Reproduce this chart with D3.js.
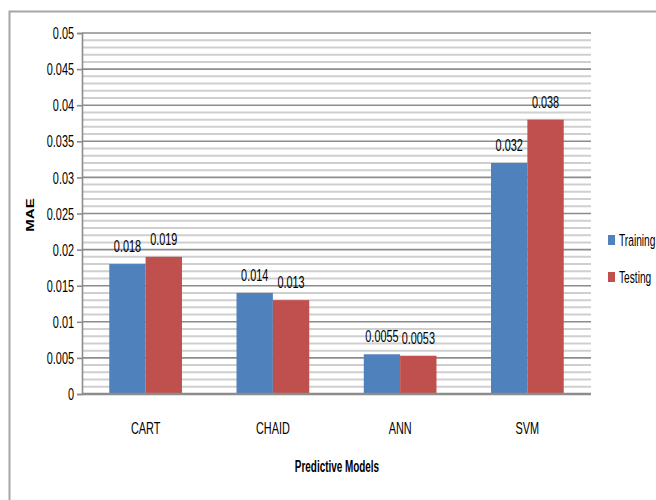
<!DOCTYPE html>
<html>
<head>
<meta charset="utf-8">
<script src="https://cdn.jsdelivr.net/npm/d3@7"></script>
<style>
  body { margin: 0; background: #fff; }
  svg { display: block; }
  text { font-family: "Liberation Sans", Arial, sans-serif; fill: #000; }
</style>
</head>
<body>
<svg id="chart" width="656" height="500"></svg>
<script>
// MAE of each predictive model on training and testing data
const models = ["CART", "CHAID", "ANN", "SVM"];
const seriesNames = ["Training", "Testing"];
const training = [0.018, 0.014, 0.0055, 0.032];
const testing = [0.019, 0.013, 0.0053, 0.038];
const trainingLabels = ["0.018", "0.014", "0.0055", "0.032"];
const testingLabels = ["0.019", "0.013", "0.0053", "0.038"];
const yTicks = [0, 0.005, 0.01, 0.015, 0.02, 0.025, 0.03, 0.035, 0.04, 0.045, 0.05];
const yTickLabels = ["0", "0.005", "0.01", "0.015", "0.02", "0.025", "0.03", "0.035", "0.04", "0.045", "0.05"];
const colors = ["#4f81bd", "#c0504d"];

const svg = d3.select("#chart");
const plot = { left: 82, right: 591, top: 33, bottom: 394 };
const SX = 0.64; // horizontal condensing of the narrow lettering

// places condensed text anchored at (x, y)
function narrowText(parent, x, y, str, opts = {}) {
  const g = parent.append("g").attr("transform", `translate(${x},${y}) scale(${opts.sx || SX},1)`);
  return g.append("text")
    .attr("text-anchor", opts.anchor || "middle")
    .attr("dy", opts.dy || 0)
    .attr("font-size", opts.size || 17)
    .attr("font-weight", opts.weight || "normal")
    .text(str);
}

// outer frame (top and left edges)
svg.append("path")
  .attr("d", "M9.5,500 V11.5 H656")
  .attr("fill", "none")
  .attr("stroke", "#a6a6a6")
  .attr("stroke-width", 2);

const y = d3.scaleLinear().domain([0, 0.05]).range([plot.bottom, plot.top]);
const x0 = d3.scaleBand().domain(models).range([plot.left, plot.right]).paddingInner(0).paddingOuter(0);
const x1 = d3.scaleBand().domain(seriesNames).range([0, x0.bandwidth()]).paddingInner(0).paddingOuter(0.75);

// minor gridlines every 0.001
const minor = d3.range(1, 50).filter(i => i % 5 !== 0).map(i => i / 1000);
svg.append("g").selectAll("line").data(minor).join("line")
  .attr("x1", plot.left).attr("x2", plot.right)
  .attr("y1", d => y(d)).attr("y2", d => y(d))
  .attr("stroke", "#cfcfcf").attr("stroke-width", 2);

// major gridlines
svg.append("g").selectAll("line").data(yTicks.slice(1)).join("line")
  .attr("x1", plot.left).attr("x2", plot.right)
  .attr("y1", d => y(d)).attr("y2", d => y(d))
  .attr("stroke", "#8c8c8c").attr("stroke-width", 1.6);

// y axis line and ticks
const yAxis = d3.axisLeft(y).tickValues(yTicks).tickFormat("").tickSize(5);
const ya = svg.append("g").attr("transform", `translate(${plot.left},0)`).call(yAxis);
ya.select(".domain").attr("stroke", "#8c8c8c").attr("stroke-width", 1.6);
ya.selectAll(".tick line").attr("stroke", "#8c8c8c").attr("stroke-width", 1.6);

// y tick labels
const yl = svg.append("g");
yTicks.forEach((t, i) => narrowText(yl, 74, y(t), yTickLabels[i], { anchor: "end", dy: "0.36em" }));

// bars
const groups = svg.append("g").selectAll("g").data(models).join("g")
  .attr("transform", d => `translate(${x0(d)},0)`);
const rows = models.map((m, i) => [
  { s: "Training", v: training[i], label: trainingLabels[i] },
  { s: "Testing", v: testing[i], label: testingLabels[i] }
]);
groups.selectAll("rect").data((d, i) => rows[i]).join("rect")
  .attr("x", d => x1(d.s))
  .attr("width", x1.bandwidth())
  .attr("y", d => y(d.v))
  .attr("height", d => y(0) - y(d.v))
  .attr("fill", (d, j) => colors[j]);

// value labels
groups.each(function (m, i) {
  const g = d3.select(this);
  rows[i].forEach(d => narrowText(g, x1(d.s) + x1.bandwidth() / 2, y(d.v) - 12, d.label));
});

// x baseline
svg.append("line")
  .attr("x1", plot.left).attr("x2", plot.right)
  .attr("y1", plot.bottom).attr("y2", plot.bottom)
  .attr("stroke", "#8c8c8c").attr("stroke-width", 2.5);

// category labels
const cl = svg.append("g");
models.forEach(m => narrowText(cl, x0(m) + x0.bandwidth() / 2, 434, m));

// axis titles
narrowText(svg, 337, 472, "Predictive Models", { size: 16, weight: "bold", sx: 0.62 });
svg.append("g").attr("transform", "translate(34,215) scale(0.7,1) rotate(-90)")
  .append("text")
  .attr("text-anchor", "middle")
  .attr("font-size", 15).attr("font-weight", "bold")
  .text("MAE");

// legend
const legend = svg.append("g").selectAll("g").data(seriesNames).join("g")
  .attr("transform", (d, i) => `translate(608,${235 + i * 37})`);
legend.append("rect").attr("width", 7).attr("height", 10).attr("fill", (d, i) => colors[i]);
legend.each(function (d) {
  narrowText(d3.select(this), 11, 11, d, { anchor: "start", sx: 0.6 });
});
</script>
</body>
</html>
